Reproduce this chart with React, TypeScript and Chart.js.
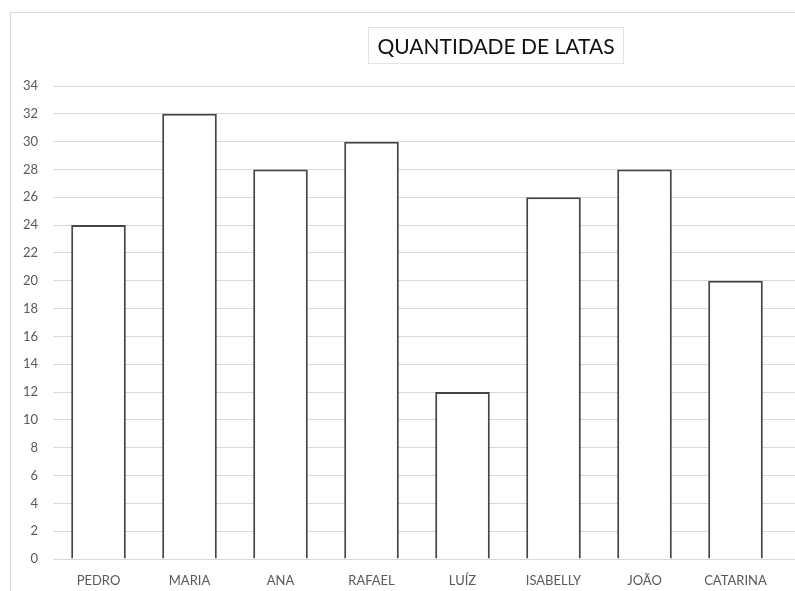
import React, { useEffect, useRef } from "react";
import { Chart, registerables } from "chart.js";

Chart.register(...registerables);

const categories = ["PEDRO", "MARIA", "ANA", "RAFAEL", "LUÍZ", "ISABELLY", "JOÃO", "CATARINA"];
const latas = [24, 32, 28, 30, 12, 26, 28, 20];
const yMin = 0;
const yMax = 34;
const yStep = 2;
const titleText = "QUANTIDADE DE LATAS";

const FONT = "Lato, 'Open Sans', sans-serif";

const extendGrid = {
  id: "extendGrid",
  afterDraw(chart: any) {
    const { ctx, chartArea, scales } = chart;
    const y = scales.y;
    ctx.save();
    ctx.strokeStyle = "#d9d9d9";
    ctx.lineWidth = 1;
    y.ticks.forEach((t: any) => {
      const p = y.getPixelForValue(t.value);
      const py = Math.round(p - 0.5) + 0.5;
      ctx.beginPath();
      ctx.moveTo(chartArea.right, py);
      ctx.lineTo(chart.width, py);
      ctx.stroke();
    });
    ctx.restore();
  },
};

export default function App() {
  const ref = useRef<HTMLCanvasElement | null>(null);
  useEffect(() => {
    if (!ref.current) return;
    const chart = new Chart(ref.current, {
      type: "bar",
      data: {
        labels: categories,
        datasets: [
          {
            data: latas,
            backgroundColor: "#ffffff",
            borderColor: "#454545",
            borderWidth: 2,
            barPercentage: 0.6,
            categoryPercentage: 1,
          },
        ],
      },
      options: {
        responsive: false,
        animation: false,
        layout: { padding: { top: 86, right: 14, left: 0, bottom: 0 } },
        plugins: { legend: { display: false }, title: { display: false }, tooltip: { enabled: false } },
        scales: {
          x: {
            grid: { display: false, drawTicks: false },
            border: { display: false },
            ticks: { color: "#595959", font: { family: FONT, size: 13 }, padding: 14, maxRotation: 0, autoSkip: false },
            afterFit: (s: any) => {
              s.height = 32;
            },
          },
          y: {
            min: yMin,
            max: yMax,
            grid: { color: "#d9d9d9", drawTicks: false, lineWidth: 1 },
            border: { display: false },
            ticks: { stepSize: yStep, color: "#595959", font: { family: FONT, size: 13 }, padding: 15 },
            afterFit: (s: any) => {
              s.width = 53;
            },
          },
        },
      },
      plugins: [extendGrid],
    });
    return () => chart.destroy();
  }, []);

  return (
    <div style={{ position: "fixed", left: 0, top: 0, width: 795, height: 591, background: "#fff", overflow: "hidden" }}>
      <div
        style={{
          position: "absolute",
          left: 10,
          top: 12,
          width: 900,
          height: 700,
          borderLeft: "1px solid #d9d9d9",
          borderTop: "1px solid #d9d9d9",
        }}
      />
      <canvas ref={ref} width={795} height={591} style={{ position: "absolute", left: 0, top: 0 }} />
      <div
        style={{
          position: "absolute",
          left: 368,
          top: 27,
          width: 256,
          height: 37,
          border: "1px solid #e3e3e3",
          boxSizing: "border-box",
          display: "flex",
          alignItems: "center",
          justifyContent: "center",
          fontFamily: FONT,
          fontSize: 21,
          color: "#111111",
          whiteSpace: "nowrap",
        }}
      >
        {titleText}
      </div>
    </div>
  );
}
